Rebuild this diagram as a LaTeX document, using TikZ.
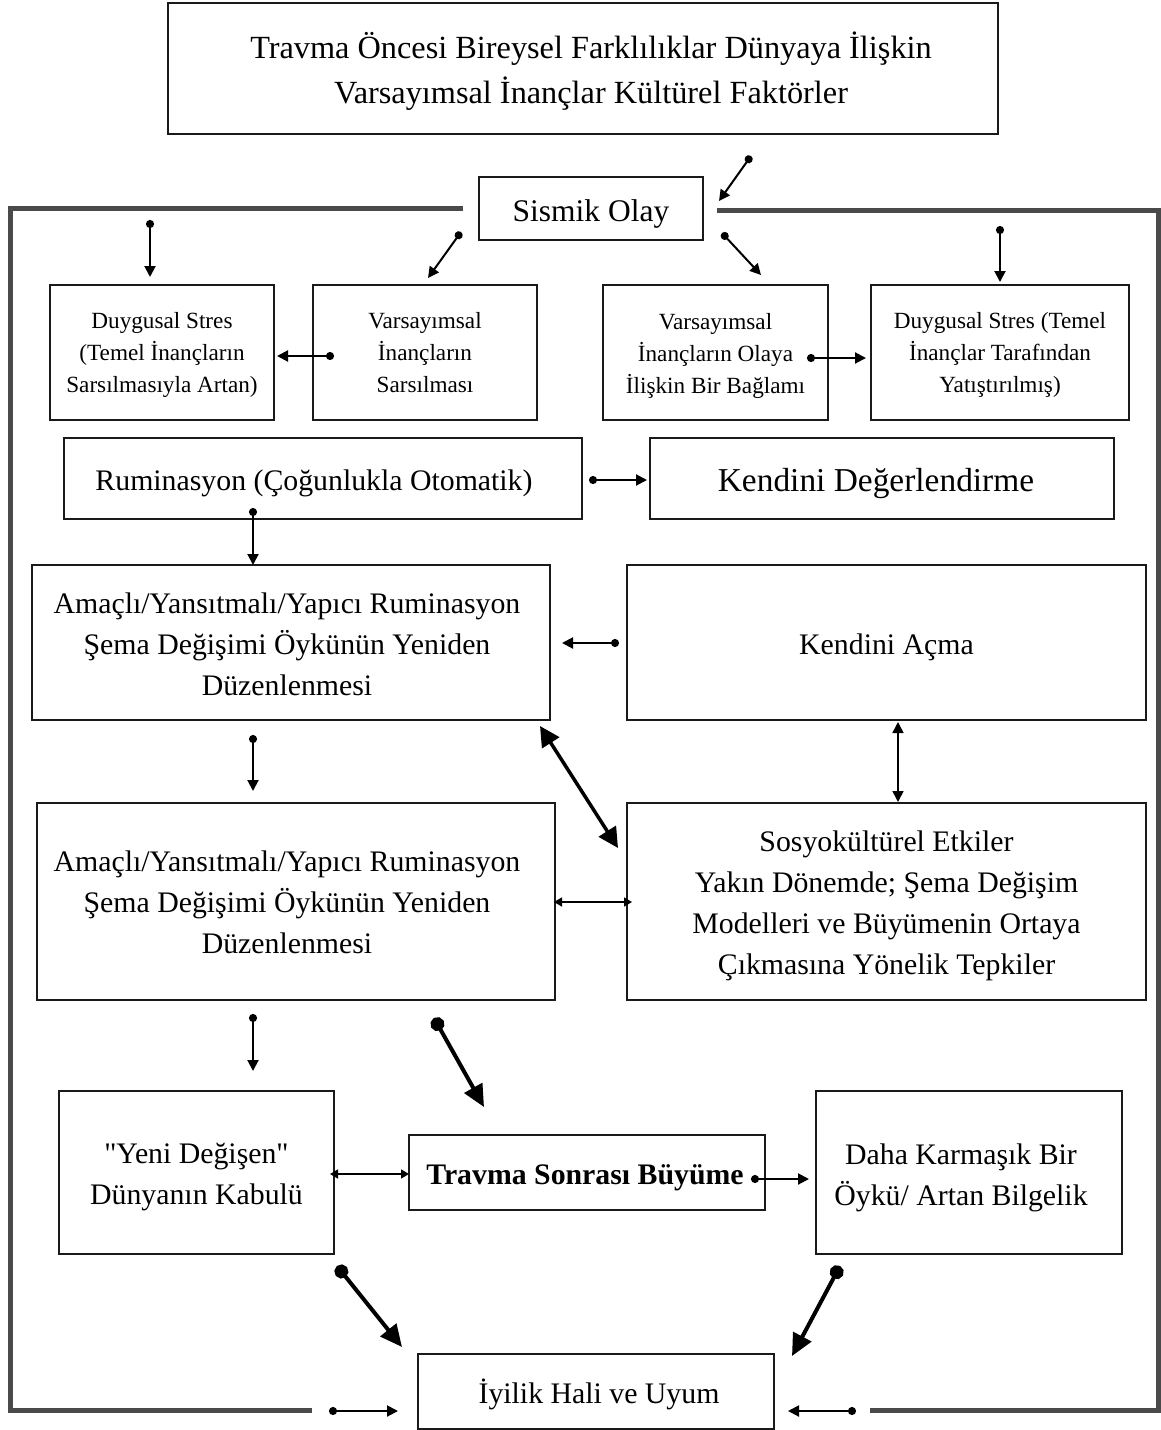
\documentclass[tikz,border=0pt]{standalone}
\usepackage{fontspec}
\setmainfont{Liberation Serif}
\newfontfamily\qfont{Liberation Serif}
\usetikzlibrary{arrows.meta}
\definecolor{boxc}{HTML}{1A1A1A}
\definecolor{framec}{HTML}{4A4A4A}
\newcommand{\dq}{{\qfont"}}
\begin{document}
\begin{tikzpicture}[x=1pt,y=-1pt,
  box/.style={draw=boxc,line width=2.2pt,inner sep=0pt},
  txt/.style={align=center,inner sep=0pt,font=\fontsize{29.8}{41}\selectfont},
  stxt/.style={txt,font=\fontsize{23.2}{32}\selectfont},
  frameline/.style={draw=framec,line width=5pt},
  sarr/.style={line width=2pt,{Circle[length=8pt]}-{Triangle[length=11pt,width=11pt]}},
  barr/.style={line width=4pt,{Circle[length=14pt]}-{Triangle[length=22pt,width=20pt]}},
  darr/.style={line width=1.5pt,{Triangle[length=8pt,width=9pt]}-{Triangle[length=8pt,width=9pt]}},
  ddarr/.style={line width=1.6pt,{Triangle[length=11pt,width=11pt]}-{Triangle[length=11pt,width=11pt]}},
  bdarr/.style={line width=3.5pt,{Triangle[length=20pt,width=20pt]}-{Triangle[length=20pt,width=20pt]}}
]
\useasboundingbox (0,0) rectangle (1161,1430);

% frame
\draw[frameline] (463,208) -| (10,1410) -- (312,1410);
\draw[frameline] (717,210) -| (1158,1410) -- (870,1410);

% boxes
\node[box,minimum width=830pt,minimum height=131pt] (top) at (583,68.5) {};
\node[box,minimum width=224pt,minimum height=63pt] (sismik) at (591,208.5) {};
\node[box,minimum width=224pt,minimum height=135pt] (ds1) at (162,352.5) {};
\node[box,minimum width=224pt,minimum height=135pt] (vis) at (425,352.5) {};
\node[box,minimum width=225pt,minimum height=135pt] (vob) at (715.5,352.5) {};
\node[box,minimum width=258pt,minimum height=135pt] (ds2) at (1000,352.5) {};
\node[box,minimum width=518pt,minimum height=81pt] (rum) at (323,478.5) {};
\node[box,minimum width=464pt,minimum height=81pt] (kd) at (882,478.5) {};
\node[box,minimum width=518pt,minimum height=155pt] (am1) at (291,642.5) {};
\node[box,minimum width=519pt,minimum height=155pt] (ka) at (886.5,642.5) {};
\node[box,minimum width=518pt,minimum height=197pt] (am2) at (296,901.5) {};
\node[box,minimum width=519pt,minimum height=197pt] (sos) at (886.5,901.5) {};
\node[box,minimum width=275pt,minimum height=163pt] (yeni) at (196.5,1172.5) {};
\node[box,minimum width=356pt,minimum height=75pt] (tsb) at (587,1172.5) {};
\node[box,minimum width=306pt,minimum height=163pt] (daha) at (969,1172.5) {};
\node[box,minimum width=356pt,minimum height=75pt] (iyi) at (596,1391.5) {};

% texts
\node[txt,font=\fontsize{32.3}{45}\selectfont] (top-t) at ([xshift=8pt,yshift=-3pt]top.center)
  {Travma Öncesi Bireysel Farklılıklar Dünyaya İlişkin\\Varsayımsal İnançlar Kültürel Faktörler};
\node[txt,font=\fontsize{31.5}{40}\selectfont] (sismik-t) at ([yshift=-5pt]sismik.center) {Sismik Olay};
\node[stxt] (ds1-t) at ([yshift=-2pt]ds1.center) {Duygusal Stres\\(Temel İnançların\\Sarsılmasıyla Artan)};
\node[stxt] (vis-t) at ([yshift=0pt]vis.center) {Varsayımsal\\İnançların\\Sarsılması};
\node[stxt] (vob-t) at ([yshift=-3pt]vob.center) {Varsayımsal\\İnançların Olaya\\İlişkin Bir Bağlamı};
\node[stxt] (ds2-t) at ([yshift=-2pt]ds2.center) {Duygusal Stres (Temel\\İnançlar Tarafından\\Yatıştırılmış)};
\node[txt] (rum-t) at ([xshift=-9pt,yshift=-5pt]rum.center) {Ruminasyon (Çoğunlukla Otomatik)};
\node[txt,font=\fontsize{33.4}{41}\selectfont] (kd-t) at ([xshift=-6pt,yshift=-5pt]kd.center) {Kendini Değerlendirme};
\node[txt] (am1-t) at ([xshift=-4pt,yshift=-2pt]am1.center)
  {Amaçlı/Yansıtmalı/Yapıcı Ruminasyon\\Şema Değişimi Öykünün Yeniden\\Düzenlenmesi};
\node[txt] (ka-t) at ([yshift=-5pt]ka.center) {Kendini Açma};
\node[txt] (am2-t) at ([xshift=-9pt,yshift=-1pt]am2.center)
  {Amaçlı/Yansıtmalı/Yapıcı Ruminasyon\\Şema Değişimi Öykünün Yeniden\\Düzenlenmesi};
\node[txt] (sos-t) at ([yshift=-4pt]sos.center)
  {Sosyokültürel Etkiler\\Yakın Dönemde; Şema Değişim\\Modelleri ve Büyümenin Ortaya\\Çıkmasına Yönelik Tepkiler};
\node[txt] (yeni-t) at ([yshift=-5pt]yeni.center) {\dq Yeni Değişen\dq\\Dünyanın Kabulü};
\node[txt,font=\fontsize{29.8}{41}\selectfont\bfseries] (tsb-t) at ([xshift=-2pt,yshift=-5pt]tsb.center) {Travma Sonrası Büyüme};
\node[txt] (daha-t) at ([xshift=-8pt,yshift=-5pt]daha.center) {Daha Karmaşık Bir\\Öykü/ Artan Bilgelik};
\node[txt] (iyi-t) at ([xshift=3pt,yshift=-3pt]iyi.center) {İyilik Hali ve Uyum};

% connector end points
\coordinate (a1s) at (751,156);  \coordinate (a1e) at (719,201);
\coordinate (a2s) at (150,220);  \coordinate (a2e) at (150,277);
\coordinate (a3s) at (461,232);  \coordinate (a3e) at (428,278);
\coordinate (a4s) at (722,233);  \coordinate (a4e) at (761,275);
\coordinate (a5s) at (1000,226); \coordinate (a5e) at (1000,282);
\coordinate (a6s) at (334,356);  \coordinate (a6e) at (277,356);
\coordinate (a7s) at (807,358);  \coordinate (a7e) at (866,358);
\coordinate (a8s) at (589,480);  \coordinate (a8e) at (647,480);
\coordinate (a9s) at (253,508);  \coordinate (a9e) at (253,565);
\coordinate (a10s) at (619,643); \coordinate (a10e) at (562,643);
\coordinate (a11s) at (253,735); \coordinate (a11e) at (253,791);
\coordinate (a12s) at (898,722); \coordinate (a12e) at (898,802);
\coordinate (a13s) at (540,726); \coordinate (a13e) at (618,848);
\coordinate (a14s) at (554,902); \coordinate (a14e) at (632,902);
\coordinate (a15s) at (253,1014); \coordinate (a15e) at (253,1071);
\coordinate (a16s) at (434,1018); \coordinate (a16e) at (484,1107);
\coordinate (a17s) at (330,1174); \coordinate (a17e) at (409,1174);
\coordinate (a18s) at (751,1179); \coordinate (a18e) at (809,1179);
\coordinate (a19s) at (337,1266); \coordinate (a19e) at (402,1347);
\coordinate (a20s) at (840,1266); \coordinate (a20e) at (792,1356);
\coordinate (a21s) at (329,1411); \coordinate (a21e) at (398,1411);
\coordinate (a22s) at (856,1411); \coordinate (a22e) at (788,1411);

% connectors
\draw[sarr] (a1s) -- (a1e);
\draw[sarr] (a2s) -- (a2e);
\draw[sarr] (a3s) -- (a3e);
\draw[sarr] (a4s) -- (a4e);
\draw[sarr] (a5s) -- (a5e);
\draw[sarr] (a6s) -- (a6e);
\draw[sarr] (a7s) -- (a7e);
\draw[sarr] (a8s) -- (a8e);
\draw[sarr] (a9s) -- (a9e);
\draw[sarr] (a10s) -- (a10e);
\draw[sarr] (a11s) -- (a11e);
\draw[ddarr] (a12s) -- (a12e);
\draw[bdarr] (a13s) -- (a13e);
\draw[darr] (a14s) -- (a14e);
\draw[sarr] (a15s) -- (a15e);
\draw[barr] (a16s) -- (a16e);
\draw[darr] (a17s) -- (a17e);
\draw[sarr] (a18s) -- (a18e);
\draw[barr] (a19s) -- (a19e);
\draw[barr] (a20s) -- (a20e);
\draw[sarr] (a21s) -- (a21e);
\draw[sarr] (a22s) -- (a22e);
\end{tikzpicture}
\end{document}
